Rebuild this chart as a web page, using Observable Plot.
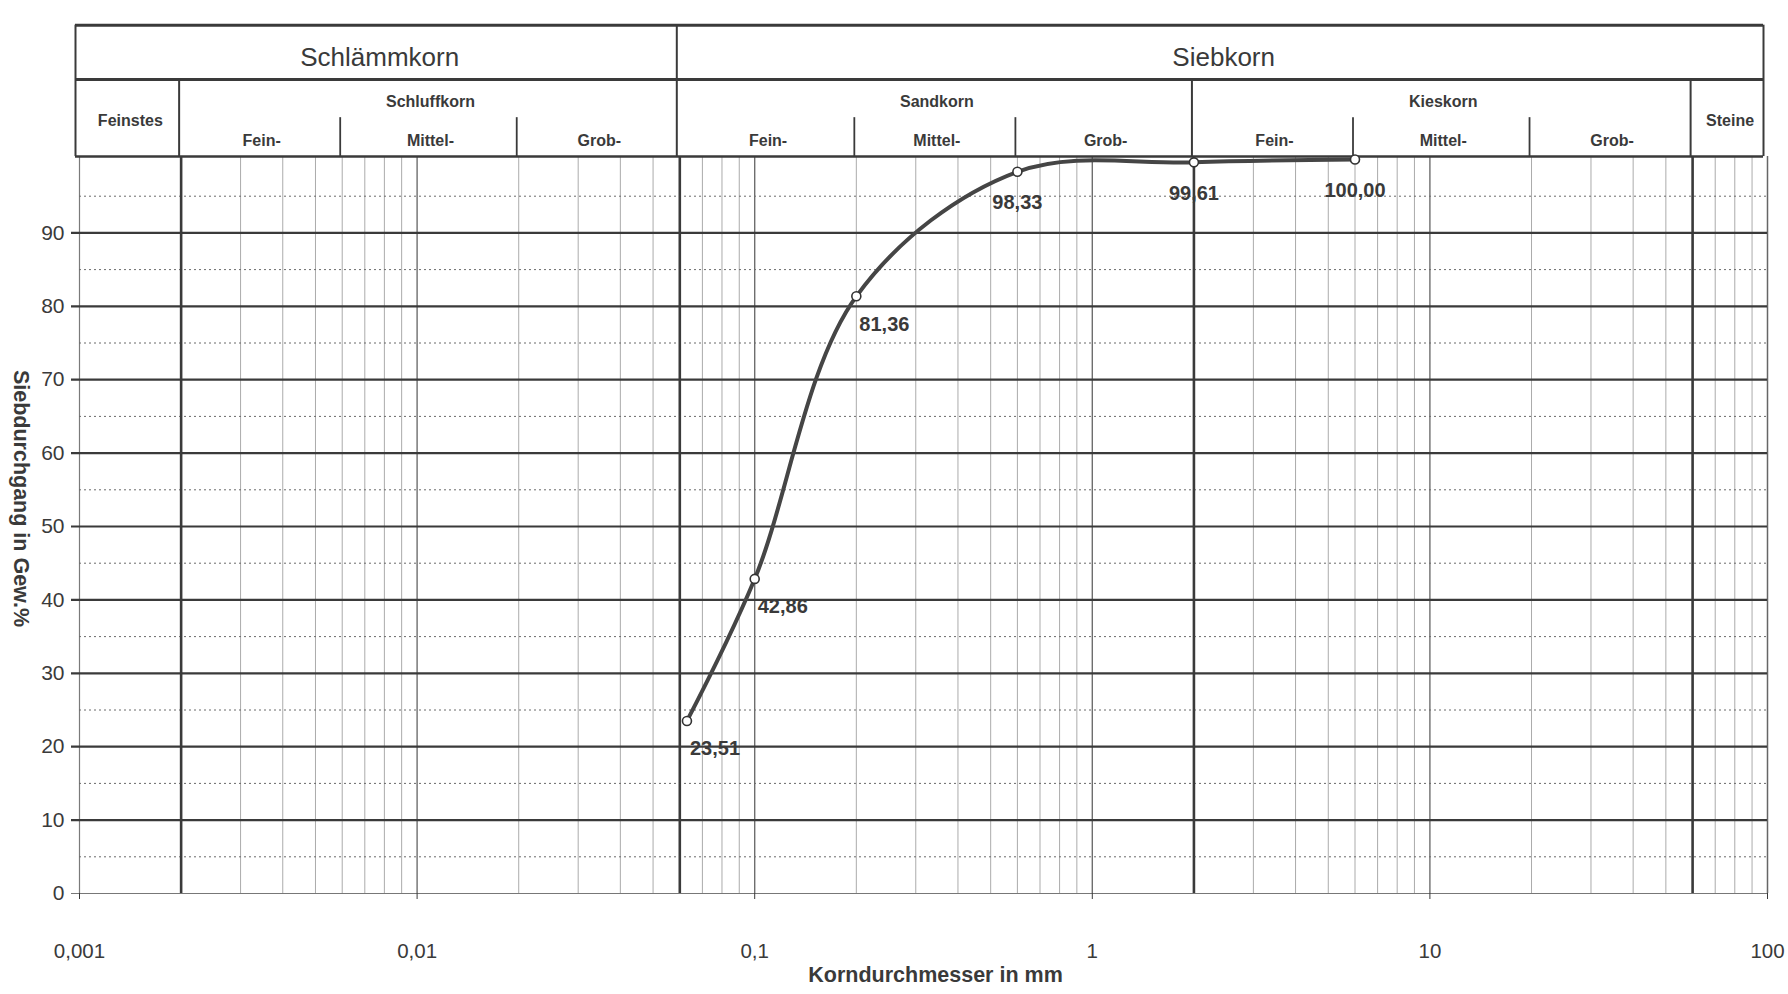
<!DOCTYPE html>
<html>
<head>
<meta charset="utf-8">
<script src="https://cdn.jsdelivr.net/npm/d3@7"></script>
<script src="https://cdn.jsdelivr.net/npm/@observablehq/plot@0.6"></script>
<style>
  html, body { margin: 0; padding: 0; background: #fff; }
  #chart { width: 1788px; height: 994px; overflow: hidden; }
</style>
</head>
<body>
<div id="chart"></div>
<script>
// ---------- data ----------
const sieveSizes = [0.063, 0.1, 0.2, 0.6, 2, 6];              // Korndurchmesser in mm
const passing    = [23.51, 42.86, 81.36, 98.33, 99.61, 100.00]; // Siebdurchgang in Gew.%

const xTicks      = [0.001, 0.01, 0.1, 1, 10, 100];
const xTickLabels = ["0,001", "0,01", "0,1", "1", "10", "100"];
const yTicks      = [0, 10, 20, 30, 40, 50, 60, 70, 80, 90];

const groupNames  = ["Schlämmkorn", "Siebkorn"];
const groupBounds = [0.001, 0.06, 100];
const classNames  = ["Feinstes", "Schluffkorn", "Sandkorn", "Kieskorn", "Steine"];
const classBounds = [0.001, 0.002, 0.06, 2, 60, 100];
const subNames    = ["Fein-", "Mittel-", "Grob-"];
const subBounds   = [[0.002, 0.006, 0.02, 0.06], [0.06, 0.2, 0.6, 2], [2, 6, 20, 60]];

// ---------- derived tables ----------
const points = sieveSizes.map((d, i) => ({d, p: passing[i]}));
const groups = groupNames.map((name, i) => ({name, from: groupBounds[i], to: groupBounds[i + 1]}));
const classes = classNames.map((name, i) => ({name, from: classBounds[i], to: classBounds[i + 1]}));
const subs = subBounds.flatMap(b => subNames.map((name, i) => ({name, from: b[i], to: b[i + 1]})));
const subDividers = subBounds.flatMap(b => b.slice(1, 3));
const boldLines = [0.002, 0.06, 2, 60];
const decades = [0.01, 0.1, 1, 10];
const minorX = [];
for (let k = -3; k <= 1; k++) for (let m = 2; m <= 9; m++) {
  const v = m * Math.pow(10, k);
  if (!boldLines.some(b => Math.abs(b - v) / b < 1e-6)) minorX.push(v);
}
const minorY = d3.range(5, 100, 10);
const majorY = d3.range(10, 100, 10);
const geo = c => Math.sqrt(c.from * c.to);
const fmt = v => v.toFixed(2).replace(".", ",");

// header row levels (in y units, above 100)
const hTop = 118.3, hMid = 110.9, hSub = 105.7, hBot = 100.4;
const ink = "#3a3a3a";

const chart = Plot.plot({
  width: 1788,
  height: 994,
  marginLeft: 79,
  marginRight: 21,
  marginTop: 159,
  marginBottom: 101,
  x: {type: "log", domain: [0.001, 100], label: null},
  y: {domain: [0, 100], label: null},
  style: {fontFamily: "'Liberation Sans', Arial, Helvetica, sans-serif", background: "#fff", color: ink, overflow: "visible"},
  marks: [
    // vertical grid
    Plot.ruleX(minorX, {y1: 0, y2: hBot, stroke: "#ababab", strokeWidth: 1}),
    Plot.ruleX(decades, {y1: 0, y2: hBot, stroke: "#6e6e6e", strokeWidth: 1.4}),
    Plot.ruleX([0.001], {y1: 0, y2: hBot, stroke: "#7a7a7a", strokeWidth: 1.2}),
    Plot.ruleX([100], {y1: 0, y2: hBot, stroke: "#666", strokeWidth: 1.5}),
    // horizontal grid
    Plot.ruleY(minorY, {stroke: "#6a6a6a", strokeWidth: 1, strokeDasharray: "2,3"}),
    Plot.ruleY(majorY, {stroke: ink, strokeWidth: 2.2, insetLeft: -8}),
    Plot.ruleY([0], {stroke: "#777", strokeWidth: 1.2, insetLeft: -8}),
    // bold class boundaries
    Plot.ruleX(boldLines, {y1: 0, y2: hBot, stroke: ink, strokeWidth: 2.6}),

    // header frame
    Plot.ruleY([hTop, hMid], {insetLeft: -4, insetRight: 4, stroke: ink, strokeWidth: 3}),
    Plot.ruleY([hBot], {insetLeft: -4, insetRight: 4, stroke: ink, strokeWidth: 2.4}),
    Plot.ruleX([0.001, 100], {y1: hBot, y2: hTop, dx: -4, stroke: ink, strokeWidth: 2}),
    Plot.ruleX([0.06], {y1: hBot, y2: hTop, dx: -3, stroke: ink, strokeWidth: 2}),
    Plot.ruleX([0.002, 2, 60], {y1: hBot, y2: hMid, dx: -2, stroke: ink, strokeWidth: 2}),
    Plot.ruleX(subDividers, {y1: hBot, y2: hSub, dx: -2, stroke: ink, strokeWidth: 1.8}),
    // header texts
    Plot.text(groups, {x: geo, y: 113.9, text: "name", fontSize: 26, fill: ink, lineAnchor: "middle"}),
    Plot.text(classes.filter(c => c.name === "Feinstes" || c.name === "Steine"),
      {x: geo, y: 105.3, text: "name", fontSize: 16, fontWeight: "bold", fill: ink, lineAnchor: "middle"}),
    Plot.text(classes.filter(c => c.name !== "Feinstes" && c.name !== "Steine"),
      {x: geo, y: 107.9, text: "name", fontSize: 16, fontWeight: "bold", fill: ink, lineAnchor: "middle"}),
    Plot.text(subs, {x: geo, y: 102.5, text: "name", fontSize: 16, fontWeight: "bold", fill: ink, lineAnchor: "middle"}),

    // axes
    Plot.axisX({ticks: xTicks, tickFormat: d => xTickLabels[xTicks.indexOf(d)], tickSize: 6, tickPadding: 44,
      fontSize: 20.5, label: null, anchor: "bottom"}),
    Plot.axisY({ticks: yTicks, tickSize: 0, tickPadding: 15, fontSize: 21, label: null, anchor: "left"}),
    Plot.text(["Korndurchmesser in mm"], {text: d => d, frameAnchor: "bottom", dx: 12, dy: 82,
      fontSize: 21.5, fontWeight: "bold", fill: ink, textAnchor: "middle", lineAnchor: "middle"}),
    Plot.text(["Siebdurchgang in Gew.%"], {text: d => d, frameAnchor: "left", rotate: 90, dx: -59, dy: -28,
      fontSize: 21.5, fontWeight: "bold", fill: ink, textAnchor: "middle", lineAnchor: "middle"}),

    // data
    Plot.line(points, {x: "d", y: "p", curve: "catmull-rom", stroke: "#454545", strokeWidth: 4}),
    Plot.dot(points, {x: "d", y: "p", r: 4.5, fill: "white", stroke: "#333", strokeWidth: 1.6}),
    Plot.text(points.filter(d => d.p < 90), {x: "d", y: "p", text: d => fmt(d.p), textAnchor: "start", dx: 3, dy: 28,
      fontSize: 20, fontWeight: "bold", fill: ink, lineAnchor: "middle"}),
    Plot.text(points.filter(d => d.p >= 90), {x: "d", y: "p", text: d => fmt(d.p), textAnchor: "middle", dy: 31,
      fontSize: 20, fontWeight: "bold", fill: ink, lineAnchor: "middle"})
  ]
});
document.getElementById("chart").appendChild(chart);
</script>
</body>
</html>
